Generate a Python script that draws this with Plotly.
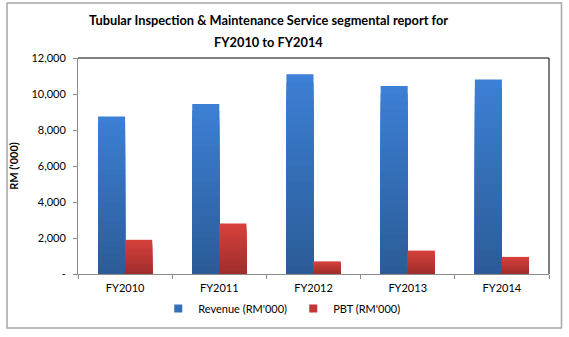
import plotly.graph_objects as go

# Segment figures, RM'000
years = ["FY2010", "FY2011", "FY2012", "FY2013", "FY2014"]
revenue = [8750, 9450, 11100, 10450, 10800]
pbt = [1900, 2800, 700, 1300, 950]

y_tickvals = [0, 2000, 4000, 6000, 8000, 10000, 12000]
y_ticktext = ["-", "2,000", "4,000", "6,000", "8,000", "10,000", "12,000"]

title_lines = ["Tubular Inspection & Maintenance Service segmental report for",
               "FY2010 to FY2014"]

FONT = "Lato, 'Open Sans', sans-serif"
BAR_W = 0.287
LAYERS = 24


def mix(c1, c2, t):
    return "rgb({},{},{})".format(*[round(a + (b - a) * t) for a, b in zip(c1, c2)])


def gradient_bars(fig, name, values, top_rgb, bottom_rgb, offset):
    # stacked-down layers give each bar a light-top / dark-bottom fill
    for k in range(LAYERS):
        f = 1 - k / LAYERS
        fig.add_trace(go.Bar(
            x=years,
            y=[v * f for v in values],
            name=name,
            width=BAR_W,
            offset=offset,
            marker=dict(color=mix(top_rgb, bottom_rgb, k / (LAYERS - 1)), line=dict(width=0)),
            showlegend=False,
            legendgroup=name,
            hoverinfo="skip" if k else None,
        ))
    # small square legend key in the mid tone of the bar
    fig.add_trace(go.Scatter(
        x=[None], y=[None], mode="markers", name=name, legendgroup=name,
        marker=dict(symbol="square", size=8, color=mix(top_rgb, bottom_rgb, 0.45)),
        showlegend=True,
    ))


fig = go.Figure()
gradient_bars(fig, "Revenue (RM'000)", revenue, (60, 127, 212), (44, 92, 152), -BAR_W)
gradient_bars(fig, "PBT (RM'000)", pbt, (214, 65, 60), (160, 46, 44), 0)

annotations = [
    dict(text="<b>%s</b>" % line, xref="paper", yref="paper",
         x=0.4045, y=yy, xanchor="center", yanchor="middle", showarrow=False,
         font=dict(family=FONT, size=12.8, color="#000000"))
    for line, yy in zip(title_lines, [1.178, 1.076])
]

fig.update_layout(
    width=569,
    height=337,
    barmode="overlay",
    paper_bgcolor="white",
    plot_bgcolor="white",
    margin=dict(l=78, r=20, t=58, b=63),
    font=dict(family=FONT, size=11, color="#000000"),
    showlegend=True,
    legend=dict(
        orientation="h",
        x=0.457,
        xanchor="center",
        y=-0.16,
        yanchor="middle",
        font=dict(size=11),
        entrywidth=90,
        traceorder="normal",
    ),
    annotations=annotations,
    xaxis=dict(
        type="category",
        showgrid=False,
        showline=True,
        linecolor="#8c8c8c",
        linewidth=1,
        ticks="outside",
        tickson="boundaries",
        ticklen=4,
        tickcolor="#8c8c8c",
        tickfont=dict(size=11),
        ticklabelstandoff=4,
        fixedrange=True,
    ),
    yaxis=dict(
        range=[0, 12000],
        tickvals=y_tickvals,
        ticktext=y_ticktext,
        showgrid=False,
        showline=True,
        linecolor="#8c8c8c",
        linewidth=1,
        ticks="outside",
        ticklen=4,
        tickcolor="#8c8c8c",
        tickfont=dict(size=11),
        ticklabelstandoff=5,
        title=dict(text="<b>RM ('000)</b>", font=dict(size=11), standoff=10),
        zeroline=False,
        fixedrange=True,
    ),
    shapes=[
        # plot-area border on the top and right
        dict(type="line", xref="paper", yref="paper", x0=0, x1=1, y0=1, y1=1,
             line=dict(color="#000000", width=1)),
        dict(type="line", xref="paper", yref="paper", x0=1, x1=1, y0=0, y1=1,
             line=dict(color="#000000", width=1)),
        # outer chart frame
        dict(type="rect", xref="paper", yref="paper",
             x0=-0.1507, x1=1.0265, y0=-0.25, y1=1.2546,
             line=dict(color="#a6a6a6", width=1.5)),
    ],
)

fig.write_html("out.html")
